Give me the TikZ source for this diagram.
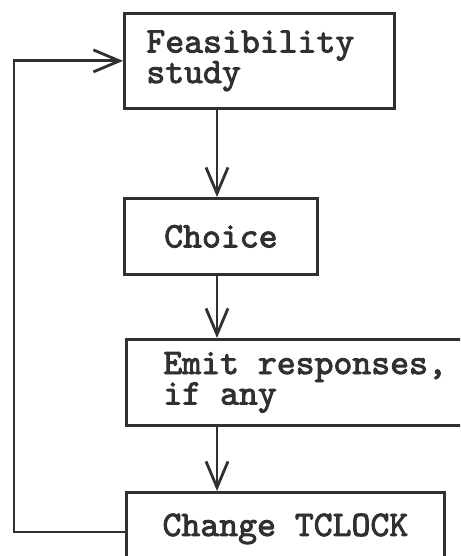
\documentclass[tikz,border=0pt]{standalone}
\usepackage{fontspec}
\newfontfamily\typewriter[FakeBold=2.5]{lmmono10-regular.otf}
\usetikzlibrary{arrows.meta}
\definecolor{inkc}{HTML}{303030}
\begin{document}
\begin{tikzpicture}[x=1pt,y=-1pt,
  ink/.style={draw=inkc, line width=2.8pt},
  box/.style={ink, rectangle, anchor=north west, inner ysep=0pt,
    font=\typewriter\fontsize{36}{30.5}\selectfont, text=inkc},
  flow/.style={ink, -{Straight Barb[length=26pt,width=22pt]}}]
\useasboundingbox (0,0) rectangle (460,556);
\fill[white] (0,0) rectangle (460,556);
\clip (0,0) rectangle (460,556);

% process boxes (full typewriter spaces: flush left keeps the font's own space)
\node[box, minimum width=270pt, minimum height=95pt, inner xsep=22pt,
      text width=226pt, align=flush left] (feas) at (123,12) {Feasibility\\study};
\node[box, minimum width=193pt, minimum height=76pt, inner xsep=0pt,
      align=center] (choice) at (123,197) {Choice};
\node[box, minimum height=86pt, inner xsep=37pt,
      text width=320pt, align=flush left] (emit) at (125,338) {Emit responses,\\if any};
\node[box, minimum width=318pt, minimum height=73pt, inner xsep=0pt,
      align=center] (tclock) at (125,491) {Change TCLOCK};

% main flow down the column
\coordinate (spine) at (217,0);
\draw[flow] (feas.south -| spine) -- (choice.north -| spine);
\draw[flow] (choice.south -| spine) -- (emit.north -| spine);
\draw[flow] (emit.south -| spine) -- (tclock.north -| spine);

% loop back to the top
\coordinate (ret) at (14,532);
\draw[flow] (tclock.west |- ret) -- (ret) |- (feas.west);
\end{tikzpicture}
\end{document}
